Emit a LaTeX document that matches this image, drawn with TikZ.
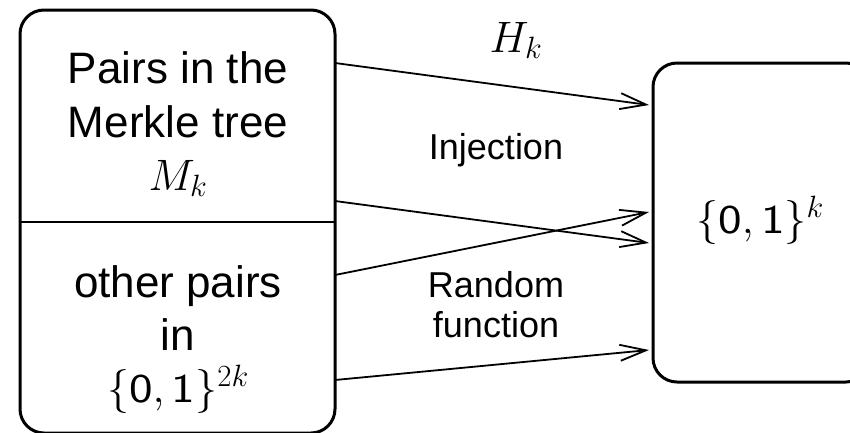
\RequirePackage{fix-cm}
\documentclass[tikz,border=0pt]{standalone}
\usepackage{fontspec}
\usepackage{graphicx}
\setmainfont{Liberation Sans}
\usetikzlibrary{arrows.meta}
\newcommand{\sd}[1]{\mbox{\scalebox{1.22}[1]{\sffamily\fontsize{41}{44}\selectfont #1}}}
\begin{document}
\begin{tikzpicture}[x=1pt,y=-1pt,
  box/.style={draw, line width=3pt, rounded corners=24pt, inner sep=0pt},
  big/.style={font=\fontsize{44}{54}\selectfont, inner sep=0pt, anchor=base},
  mid/.style={font=\fontsize{36}{40}\selectfont, inner sep=0pt, anchor=base, align=center},
  conn/.style={line width=1.8pt, -{Straight Barb[length=26pt,width=16pt,line width=1.8pt]}}
]
\useasboundingbox (0,0) rectangle (850,432);
\node[box, minimum width=315pt, minimum height=423pt] (L) at (177.5,221.5) {};
\node[box, minimum width=217pt, minimum height=319pt] (R) at (761.5,222.5) {};
\coordinate (dl) at (20,222);
\coordinate (dr) at (335,222);
\draw[line width=1.5pt] (dl) -- (dr);

\node[big] (t1) at (178,83) {Pairs in the};
\node[big] (t2) at (178,137) {Merkle tree};
\node[big] (t3) at (178,190) {$M_k$};
\node[big] (t4) at (178,297) {other pairs};
\node[big] (t5) at (178,350) {in};
\node[big] (t6) at (178,402) {$\{\sd{0},\sd{1}\}^{2k}$};
\node[big] (t7) at (760,233) {$\{\sd{0},\sd{1}\}^{k}$};

\node[big] (hk) at (516,52) {$H_k$};
\node[mid] (inj) at (496,159) {Injection};
\node[mid] (rnd) at (496,337) {Random\\function};

\coordinate (a1) at (335,63);  \coordinate (b1) at (649,105);
\coordinate (a2) at (335,201); \coordinate (b2) at (649,243);
\coordinate (a3) at (335,275); \coordinate (b3) at (649,212);
\coordinate (a4) at (335,380); \coordinate (b4) at (649,350);
\draw[conn] (a1) -- (b1);
\draw[conn] (a2) -- (b2);
\draw[conn] (a3) -- (b3);
\draw[conn] (a4) -- (b4);
\end{tikzpicture}
\end{document}
